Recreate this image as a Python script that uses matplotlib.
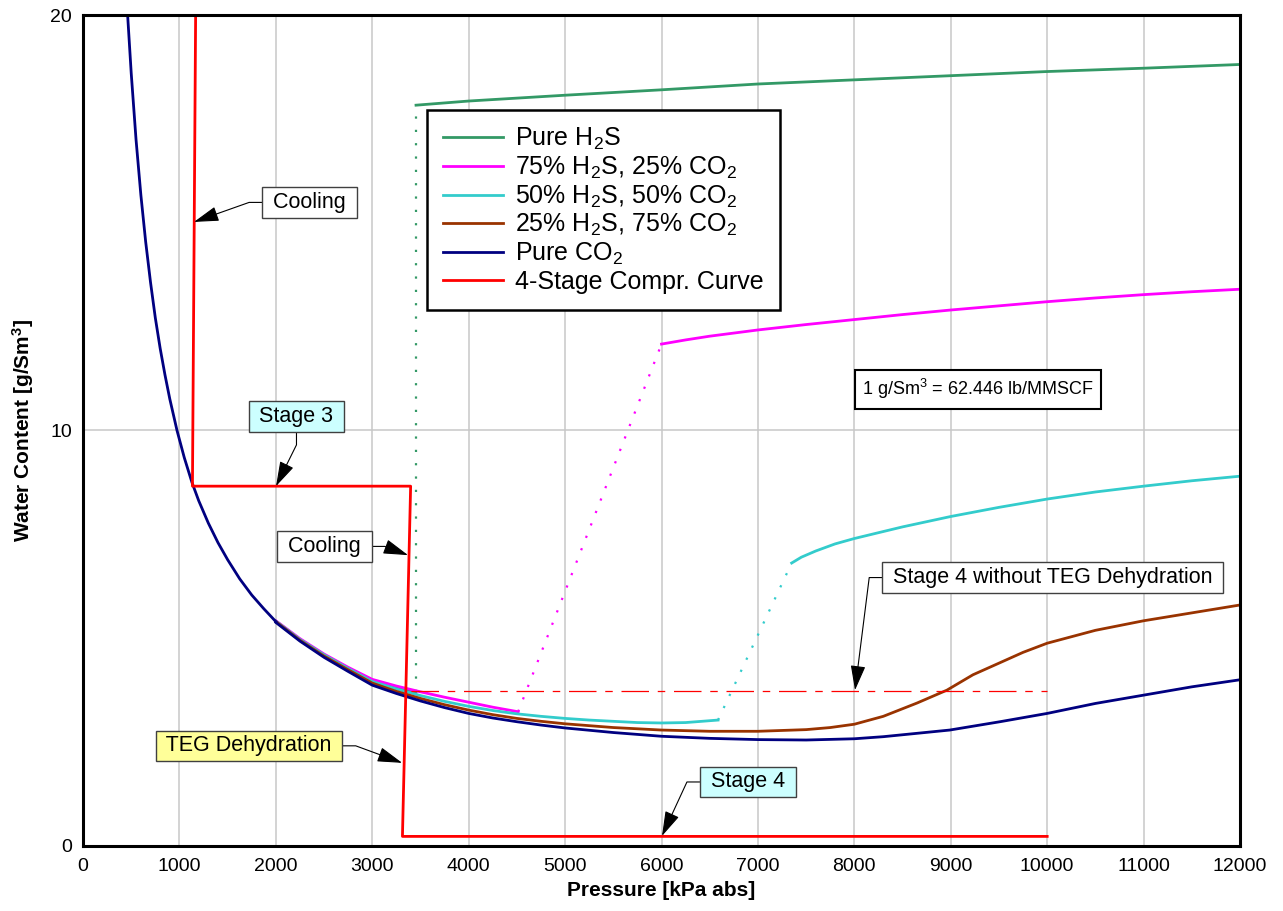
import matplotlib
matplotlib.use('Agg')
import matplotlib.pyplot as plt
from matplotlib.lines import Line2D

plt.rcParams['font.family'] = ['Liberation Sans', 'DejaVu Sans']
plt.rcParams['mathtext.default'] = 'regular'

# low pressure branch, all five gases sit on top of each other here
p_low = [460, 500, 550, 600, 650, 700, 750, 800, 850, 900, 975, 1050, 1130, 1200,
         1300, 1400, 1500, 1625, 1750, 1875, 2000]
w_low = [20.1, 18.6, 17.0, 15.67, 14.54, 13.57, 12.71, 11.98, 11.34, 10.76, 10.0, 9.35,
         8.75, 8.31, 7.77, 7.3, 6.89, 6.43, 6.04, 5.71, 5.4]

# pure H2S
p_h2s_lo = [2000, 2250, 2500, 2750, 3000, 3250, 3454]
w_h2s_lo = [5.41, 4.97, 4.6, 4.28, 3.99, 3.82, 3.7]
p_h2s_hi = [3454, 4000, 5000, 6000, 7000, 8000, 9000, 10000, 11000, 12000]
w_h2s_hi = [17.83, 17.93, 18.07, 18.2, 18.34, 18.44, 18.54, 18.64, 18.72, 18.81]

# 75% H2S / 25% CO2
p_75_lo = [2000, 2250, 2500, 2750, 3000, 3250, 3500, 3750, 4000, 4250, 4513]
w_75_lo = [5.42, 4.99, 4.62, 4.3, 4.01, 3.85, 3.71, 3.58, 3.46, 3.34, 3.23]
p_75_hi = [6000, 6250, 6500, 7000, 7500, 8000, 8500, 9000, 9500, 10000, 10500, 11000,
           11500, 12000]
w_75_hi = [12.08, 12.18, 12.27, 12.42, 12.55, 12.67, 12.79, 12.9, 13.0, 13.1, 13.19, 13.27,
           13.34, 13.4]

# 50% H2S / 50% CO2
p_50_lo = [2000, 2250, 2500, 2750, 3000, 3250, 3500, 3750, 4000, 4250, 4500, 4750, 5000,
           5250, 5500, 5750, 6000, 6250, 6586]
w_50_lo = [5.41, 4.97, 4.6, 4.27, 3.96, 3.78, 3.62, 3.48, 3.36, 3.26, 3.18, 3.12, 3.07,
           3.03, 3.0, 2.97, 2.96, 2.97, 3.03]
p_50_hi = [7350, 7450, 7600, 7800, 8000, 8500, 9000, 9500, 10000, 10500, 11000, 11500, 12000]
w_50_hi = [6.81, 6.95, 7.1, 7.27, 7.4, 7.68, 7.93, 8.15, 8.35, 8.52, 8.66, 8.79, 8.9]

# 25% H2S / 75% CO2
p_25 = [2000, 2250, 2500, 2750, 3000, 3250, 3500, 3750, 4000, 4250, 4500, 4750, 5000,
        5500, 6000, 6500, 7000, 7500, 7750, 8000, 8300, 8650, 8960, 9230, 9500, 9750,
        10000, 10500, 11000, 11500, 12000]
w_25 = [5.4, 4.95, 4.57, 4.24, 3.92, 3.72, 3.55, 3.4, 3.27, 3.16, 3.07, 3.0, 2.94,
        2.85, 2.79, 2.76, 2.76, 2.8, 2.85, 2.93, 3.12, 3.44, 3.75, 4.12, 4.4, 4.66,
        4.88, 5.19, 5.42, 5.61, 5.8]

# pure CO2
p_co2 = [2000, 2250, 2500, 2750, 3000, 3250, 3500, 3750, 4000, 4250, 4500, 4750, 5000,
         5500, 6000, 6500, 7000, 7500, 8000, 8300, 8990, 9510, 10000, 10500, 11000,
         11500, 12000]
w_co2 = [5.38, 4.93, 4.54, 4.2, 3.87, 3.67, 3.49, 3.33, 3.19, 3.08, 2.99, 2.91, 2.84,
         2.73, 2.64, 2.59, 2.56, 2.55, 2.58, 2.63, 2.79, 2.99, 3.19, 3.43, 3.63, 3.83, 4.0]

# 4-stage compression curve
p_comp = [1168, 1135, 3398, 3313, 10000]
w_comp = [20.0, 8.66, 8.66, 0.23, 0.23]

# stage 4 without TEG dehydration
p_noteg = [3400, 10000]
w_noteg = [3.73, 3.73]

c_h2s = '#339966'
c_75 = '#ff00ff'
c_50 = '#33cccc'
c_25 = '#993300'
c_co2 = '#000080'
c_red = '#ff0000'
lw = 2.0
dots = (0, (1, 5))

fig = plt.figure(figsize=(12.83, 9.11), dpi=100)
ax = fig.add_axes([0.0647, 0.0714, 0.9018, 0.9121])

# H2S
ax.plot(p_h2s_lo, w_h2s_lo, color=c_h2s, lw=lw)
ax.plot([p_h2s_lo[-1], p_h2s_hi[0]], [w_h2s_lo[-1], w_h2s_hi[0]], color=c_h2s, lw=1.6, ls=dots)
ax.plot(p_h2s_hi, w_h2s_hi, color=c_h2s, lw=lw)
# 75/25
ax.plot(p_75_lo, w_75_lo, color=c_75, lw=lw)
ax.plot([p_75_lo[-1], p_75_hi[0]], [w_75_lo[-1], w_75_hi[0]], color=c_75, lw=1.6, ls=dots)
ax.plot(p_75_hi, w_75_hi, color=c_75, lw=lw)
# 50/50
ax.plot(p_50_lo, w_50_lo, color=c_50, lw=lw)
ax.plot([p_50_lo[-1], p_50_hi[0]], [w_50_lo[-1], w_50_hi[0]], color=c_50, lw=1.6, ls=dots)
ax.plot(p_50_hi, w_50_hi, color=c_50, lw=lw)
# 25/75 and CO2
ax.plot(p_25, w_25, color=c_25, lw=lw)
ax.plot(p_co2, w_co2, color=c_co2, lw=lw)
ax.plot(p_low, w_low, color=c_co2, lw=lw)

ax.plot(p_noteg, w_noteg, color=c_red, lw=0.9, ls=(0, (22, 7, 6, 7)))
ax.plot(p_comp, w_comp, color=c_red, lw=lw)

ax.set_xlim(0, 12000)
ax.set_ylim(0, 20)
ax.set_xticks(range(0, 12001, 1000))
ax.set_yticks([0, 10, 20])
ax.grid(color='#c8c8c8', lw=1.1)
ax.set_axisbelow(True)
ax.tick_params(length=0, labelsize=14)
ax.tick_params(axis='x', pad=9)
ax.tick_params(axis='y', pad=8)
for s in ax.spines.values():
    s.set_linewidth(2.2)
ax.set_xlabel('Pressure [kPa abs]', fontsize=15, fontweight='bold', labelpad=4)
ax.set_ylabel('Water Content [g/Sm$^3$]', fontsize=15, fontweight='bold', labelpad=10)

handles = [Line2D([], [], color=c, lw=lw) for c in [c_h2s, c_75, c_50, c_25, c_co2, c_red]]
labels = ['Pure H$_2$S', '75% H$_2$S, 25% CO$_2$', '50% H$_2$S, 50% CO$_2$',
          '25% H$_2$S, 75% CO$_2$', 'Pure CO$_2$', '4-Stage Compr. Curve']
leg = ax.legend(handles, labels, loc='upper left', bbox_to_anchor=(0.297, 0.886),
                borderaxespad=0, fontsize=18, handlelength=2.4, handletextpad=0.5,
                labelspacing=0.1, borderpad=0.65, fancybox=False, framealpha=1,
                edgecolor='black')
leg.get_frame().set_linewidth(1.8)


def callout(text, xy, xytext, fc, relpos, angle):
    ax.annotate(text, xy=xy, xytext=xytext, fontsize=15.5, ha='center', va='center',
                bbox=dict(boxstyle='square,pad=0.22', fc=fc, ec='#404040', lw=1),
                arrowprops=dict(arrowstyle='-|>,head_length=1.0,head_width=0.3',
                                color='black', lw=0.8, shrinkA=0, shrinkB=0, relpos=relpos,
                                connectionstyle='arc,angleA=%d,armA=18,rad=0' % angle))


callout(' Cooling ', (1151, 15.02), (2349, 15.49), 'white', (0, 0.5), 180)
callout(' Stage 3 ', (2002, 8.66), (2214, 10.34), '#ccffff', (0.5, 0), -90)
callout(' Cooling ', (3371, 7.0), (2504, 7.21), 'white', (1, 0.5), 0)
callout(' TEG Dehydration ', (3310, 2.0), (1722, 2.41), '#ffff99', (1, 0.5), 0)
callout(' Stage 4 ', (6005, 0.24), (6897, 1.54), '#ccffff', (0, 0.5), 180)
callout(' Stage 4 without TEG Dehydration ', (8007, 3.75), (10060, 6.46), 'white', (0, 0.5), 180)

ax.text(9282, 10.99, '1 g/Sm$^3$ = 62.446 lb/MMSCF', fontsize=13, ha='center', va='center',
        bbox=dict(boxstyle='square,pad=0.4', fc='white', ec='black', lw=1.5))

fig.savefig('out.png', dpi=100)
